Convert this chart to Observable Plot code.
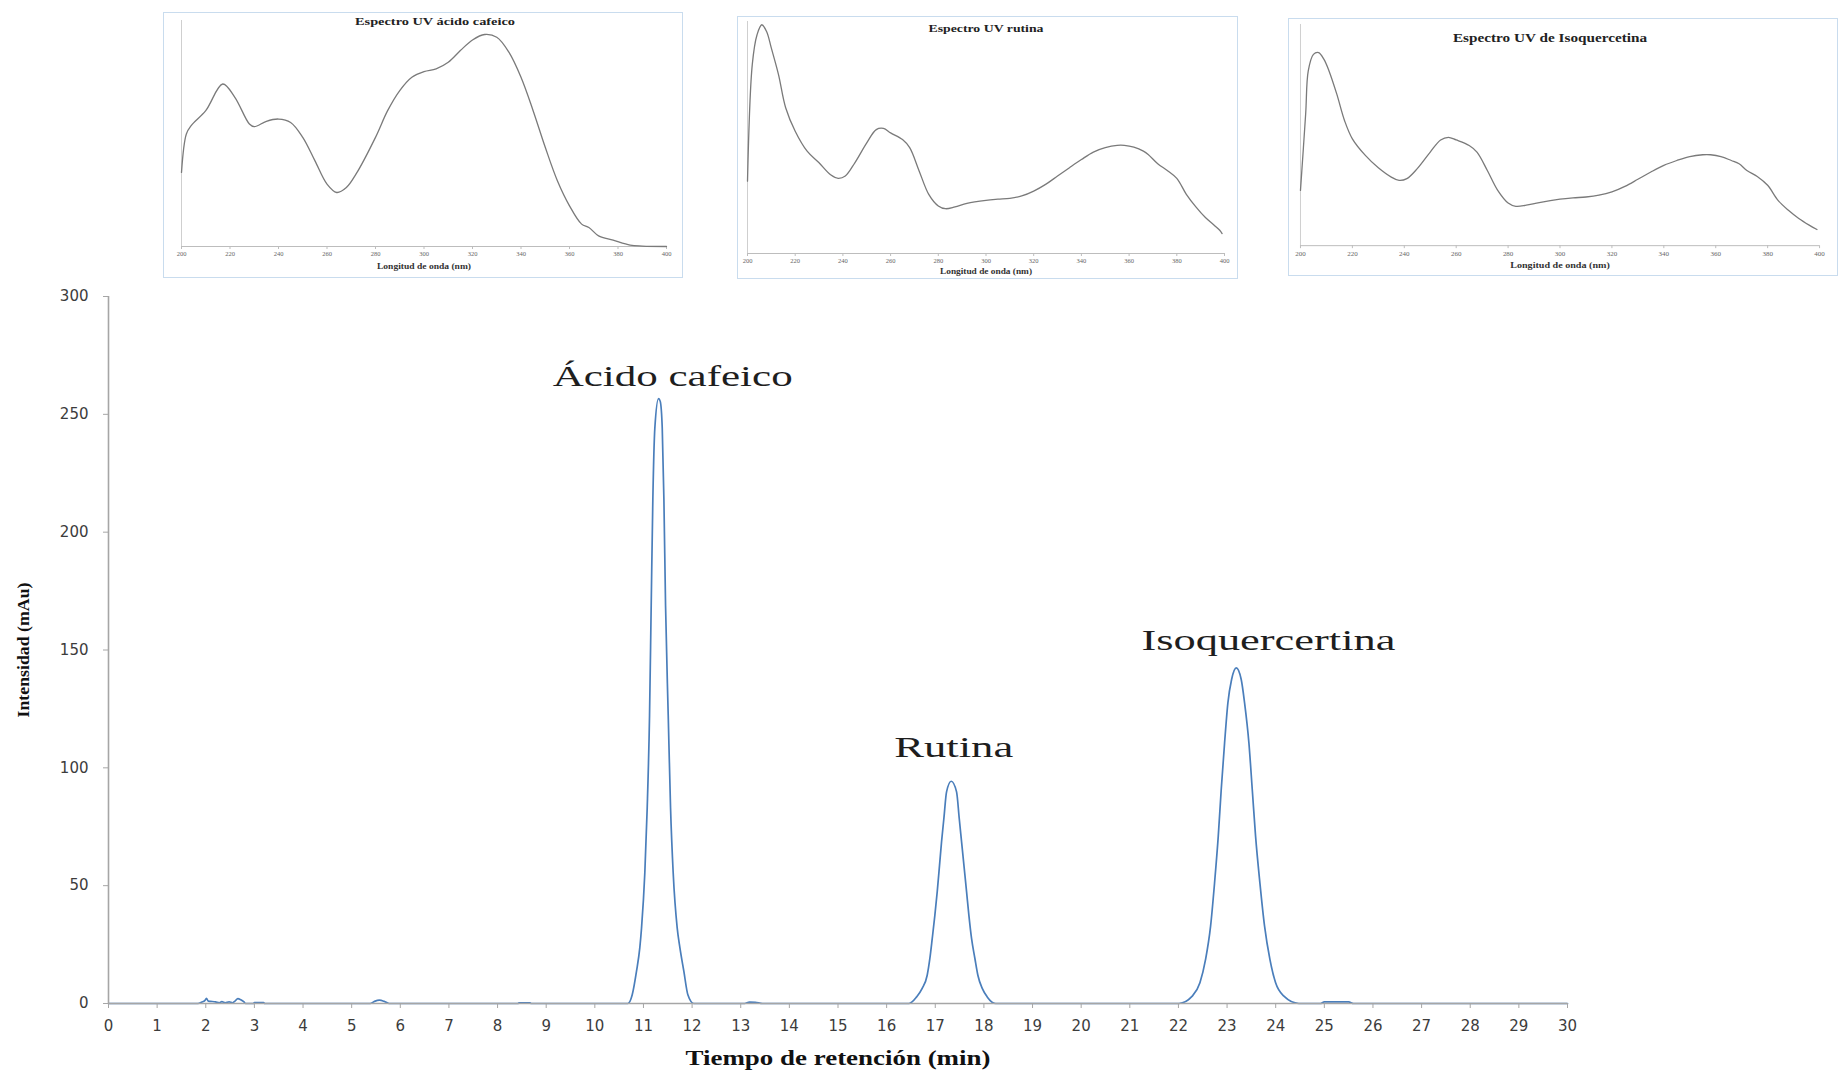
<!DOCTYPE html>
<html><head><meta charset="utf-8">
<script src="https://cdn.jsdelivr.net/npm/d3@7"></script>
<script src="https://cdn.jsdelivr.net/npm/@observablehq/plot@0.6"></script>
<style>
html,body{margin:0;padding:0;background:#fff;overflow:hidden;}
#wrap{position:relative;width:1838px;height:1073px;overflow:hidden;background:#fff;}
#main{position:absolute;left:0;top:0;}
.inset{position:absolute;}
.inset svg{display:block;outline:1.5px solid #c9dcee;outline-offset:-1px;}
</style></head>
<body><div id="wrap"><div id="main"></div><div id="i1" class="inset"></div><div id="i2" class="inset"></div><div id="i3" class="inset"></div></div>
<script>
// ---------- Chromatogram data ----------
const retentionTime = [0, 1.84, 1.92, 1.98, 2.015, 2.05, 2.1, 2.2, 2.28, 2.33, 2.4, 2.48, 2.55, 2.6, 2.66, 2.72, 2.78, 2.82,
  2.98, 3.0, 3.19, 3.21, 5.38, 5.47, 5.57, 5.67, 5.77, 8.42, 8.44, 8.67, 8.69,
  10.68, 10.769, 10.857, 10.925, 10.96, 11.028, 11.077, 11.125, 11.159, 11.193, 11.234, 11.31, 11.345, 11.386, 11.42, 11.454, 11.509, 11.557, 11.611, 11.694, 11.749, 11.83, 11.913, 12.035,
  13.08, 13.18, 13.3, 13.45,
  16.457, 16.616, 16.731, 16.834, 16.889, 16.938, 16.992, 17.04, 17.088, 17.129, 17.177, 17.232, 17.328, 17.438, 17.493, 17.541, 17.589, 17.644, 17.691, 17.746, 17.815, 17.876, 17.966, 18.068, 18.24,
  22.01, 22.284, 22.442, 22.558, 22.661, 22.743, 22.819, 22.88, 22.949, 23.017, 23.093, 23.189, 23.291, 23.36, 23.449, 23.518, 23.586, 23.675, 23.771, 23.881, 23.998, 24.169, 24.477,
  24.92, 25.0, 25.5, 25.6, 30];
const intensity = [0, 0, 0.6, 1.2, 2.2, 1.0, 0.9, 0.7, 0.3, 0.8, 0.3, 0.7, 0.3, 1.0, 2.1, 1.6, 0.8, 0,
  0, 0.4, 0.4, 0, 0, 0.9, 1.4, 0.9, 0, 0, 0.3, 0.3, 0,
  0, 3.7, 13.7, 23.7, 32.0, 55.5, 83.0, 122.3, 169.0, 214.1, 244.2, 256.7, 255.5, 244.2, 214.1, 169.0, 122.3, 83.0, 55.5, 32.0, 23.7, 13.7, 3.7, 0,
  0, 0.6, 0.5, 0,
  0, 2.8, 6.4, 12.0, 19.1, 27.6, 37.5, 47.4, 58.7, 68.6, 78.5, 89.8, 94.3, 89.8, 78.5, 68.6, 58.7, 47.4, 37.5, 27.6, 19.1, 12.0, 6.4, 2.8, 0,
  0, 3.1, 8.8, 18.7, 32.8, 51.2, 71.0, 90.8, 110.6, 127.6, 137.5, 142.4, 137.5, 127.6, 110.6, 90.8, 71.0, 51.2, 32.8, 18.7, 8.8, 3.1, 0,
  0, 0.7, 0.7, 0, 0];
const xTicks = [0,1,2,3,4,5,6,7,8,9,10,11,12,13,14,15,16,17,18,19,20,21,22,23,24,25,26,27,28,29,30];
const yTicks = [0, 50, 100, 150, 200, 250, 300];
const peakLabels = ["Ácido cafeico", "Rutina", "Isoquercertina"];
const labelTime = [11.6, 17.38, 23.85];
const labelIntensity = [262.2, 104.4, 149.8];
const xTitle = "Tiempo de retención (min)";
const yTitle = "Intensidad (mAu)";

// ---------- UV spectra data ----------
const caffeicWavelength = [200,202,204,210,217,222,228,230,235,240,245,250,255,260,264,268,272,280,285,290,295,300,305,310,315,320,325,330,335,340,345,350,355,360,365,368,372,378,385,390,400];
const caffeicAbs = [0.328,0.498,0.535,0.601,0.719,0.660,0.542,0.530,0.554,0.564,0.549,0.483,0.380,0.276,0.239,0.261,0.321,0.483,0.601,0.690,0.749,0.774,0.786,0.815,0.867,0.914,0.938,0.926,0.860,0.749,0.601,0.439,0.291,0.180,0.099,0.084,0.047,0.028,0.006,0.002,0.0];
const rutinWavelength = [200,202,204,206,208,210,213,216,220,225,230,235,238,241,245,250,254,257,260,265,268,272,276,280,283,287,292,300,305,310,315,320,325,330,335,340,345,350,355,358,362,366,368,372,376,380,384,388,392,396,398,399];
const rutinAbs = [0.312,0.814,0.943,0.986,0.957,0.885,0.771,0.628,0.527,0.441,0.391,0.338,0.324,0.334,0.391,0.477,0.534,0.539,0.520,0.491,0.456,0.355,0.255,0.205,0.193,0.201,0.216,0.229,0.234,0.238,0.248,0.269,0.298,0.334,0.370,0.405,0.437,0.456,0.466,0.466,0.458,0.441,0.427,0.387,0.358,0.324,0.255,0.201,0.155,0.119,0.100,0.086];
const isoWavelength = [200,202,203,205,207,209,211,214,217,220,225,230,235,238,241,245,250,254,257,260,265,268,272,276,280,283,287,292,300,305,310,315,320,325,330,335,340,345,350,355,358,362,366,369,372,376,380,384,388,392,396,399];
const isoAbs = [0.250,0.595,0.790,0.865,0.873,0.843,0.790,0.685,0.565,0.483,0.408,0.352,0.310,0.295,0.303,0.348,0.423,0.478,0.490,0.478,0.453,0.423,0.340,0.250,0.193,0.178,0.183,0.195,0.210,0.216,0.220,0.228,0.243,0.268,0.300,0.333,0.363,0.385,0.403,0.411,0.411,0.403,0.385,0.370,0.340,0.313,0.273,0.205,0.160,0.123,0.093,0.073];
const spectrumTicks = [200,220,240,260,280,300,320,340,360,380,400];
const spectrumTitles = ["Espectro UV ácido cafeico", "Espectro UV rutina", "Espectro UV de Isoquercetina"];
const spectrumXTitle = "Longitud de onda (nm)";

function stretch(svg, map) {
  d3.select(svg).selectAll("text").each(function () {
    const t = this.textContent;
    if (map[t] != null) d3.select(this).attr("textLength", map[t]).attr("lengthAdjust", "spacingAndGlyphs");
  });
}

// ---------- Main chart ----------
const chrom = retentionTime.map((t, i) => ({t, v: intensity[i]}));
const peaks = peakLabels.map((s, i) => ({s, t: labelTime[i], v: labelIntensity[i]}));
const axisGray = "#a6a6a6";
const mainSvg = Plot.plot({
  width: 1838, height: 1073,
  marginLeft: 108, marginRight: 271, marginTop: 296, marginBottom: 70,
  x: {domain: [0, 30], label: null},
  y: {domain: [0, 300], label: null},
  style: {background: "white", fontFamily: "DejaVu Sans", overflow: "visible"},
  marks: [
    Plot.line(chrom, {x: "t", y: "v", stroke: "#4a7ebb", strokeWidth: 1.7, curve: "monotone-x"}),
    Plot.ruleY([0], {stroke: axisGray, strokeWidth: 1.6}),
    Plot.ruleX([0], {stroke: axisGray, strokeWidth: 1.6}),
    Plot.axisX({ticks: xTicks, tickSize: 5, tickPadding: 12, fontSize: 15, stroke: axisGray, fill: "#3c3c3c", label: null, tickFormat: d => String(d)}),
    Plot.axisY({ticks: yTicks, tickSize: 5, tickPadding: 15, fontSize: 15, stroke: axisGray, fill: "#3c3c3c", label: null, tickFormat: d => String(d)}),
    Plot.text(peaks, {x: "t", y: "v", text: "s", fontSize: 29, fontFamily: "Liberation Serif", lineAnchor: "bottom", fill: "#1e1e1e"}),
    Plot.text([yTitle], {text: d => d, frameAnchor: "left", textAnchor: "middle", rotate: -90, dx: -85, fontSize: 17, fontWeight: "bold", fontFamily: "Liberation Serif", fill: "#111", lineAnchor: "middle"}),
    Plot.text([xTitle], {text: d => d, frameAnchor: "bottom", dy: 55, fontSize: 20, fontWeight: "bold", fontFamily: "Liberation Serif", fill: "#111", lineAnchor: "middle"})
  ]
});
stretch(mainSvg, {"Ácido cafeico": 240, "Rutina": 119, "Isoquercertina": 254, "Tiempo de retención (min)": 305, "Intensidad (mAu)": 135});
document.getElementById("main").appendChild(mainSvg);

// ---------- Insets ----------
function inset(id, o) {
  const el = document.getElementById(id);
  el.style.left = o.left + "px"; el.style.top = o.top + "px";
  const data = o.wl.map((w, i) => ({w, a: o.ab[i]}));
  const svg = Plot.plot({
    width: o.width, height: o.height,
    marginLeft: o.ml, marginRight: o.mr, marginTop: o.mt, marginBottom: o.mb,
    x: {domain: [200, 400], label: null},
    y: {domain: [0, 1], label: null, axis: null},
    style: {background: "white", fontFamily: "Liberation Serif", overflow: "visible"},
    marks: [
      Plot.ruleY([0], {stroke: "#bdbdbd", strokeWidth: 1}),
      Plot.ruleX([200], {stroke: "#cfcfcf", strokeWidth: 1}),
      Plot.axisX({ticks: spectrumTicks, tickSize: 3, tickPadding: 2, fontSize: o.tickFont, stroke: "#bdbdbd", fill: "#666", label: null, tickFormat: d => String(d)}),
      Plot.line(data, {x: "w", y: "a", curve: "catmull-rom", stroke: "#7a7a7a", strokeWidth: 1.3}),
      Plot.text([o.title], {text: d => d, frameAnchor: "top", dx: o.tdx, dy: o.tdy, fontWeight: "bold", fontSize: o.titleSize, lineAnchor: "middle", fill: "#222"}),
      Plot.text([spectrumXTitle], {text: d => d, frameAnchor: "bottom", dy: o.xdy, fontWeight: "bold", fontSize: o.xSize, lineAnchor: "middle", fill: "#333"})
    ]
  });
  const m = {}; m[o.title] = o.titleLen; m[spectrumXTitle] = o.xLen;
  stretch(svg, m);
  el.appendChild(svg);
}
inset("i1", {left: 163, top: 12, width: 520, height: 266, ml: 18, mr: 17, mt: 8, mb: 32,
  wl: caffeicWavelength, ab: caffeicAbs, title: spectrumTitles[0], tdx: 11, tdy: 1, titleSize: 10, titleLen: 160,
  xdy: 20, xSize: 7.5, xLen: 94, tickFont: 6.5});
inset("i2", {left: 737, top: 16, width: 501, height: 263, ml: 10, mr: 14, mt: 5, mb: 26,
  wl: rutinWavelength, ab: rutinAbs, title: spectrumTitles[1], tdx: 0, tdy: 7, titleSize: 10, titleLen: 115,
  xdy: 18, xSize: 7.5, xLen: 92, tickFont: 6.5});
inset("i3", {left: 1288, top: 18, width: 552, height: 259, ml: 12, mr: 19, mt: 6, mb: 31,
  wl: isoWavelength, ab: isoAbs, title: spectrumTitles[2], tdx: -10, tdy: 14, titleSize: 12, titleLen: 195,
  xdy: 20, xSize: 8, xLen: 100, tickFont: 7});
</script></body></html>
